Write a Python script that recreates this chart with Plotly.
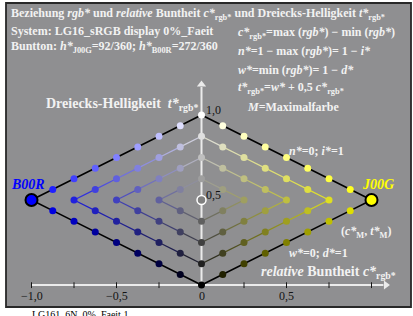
import plotly.graph_objects as go

# ---------------- data ----------------
hue_names = ["B00R", "J00G"]
hue_sides = [-1, 1]                      # sign of c* on the drawing
hue_channels = [(0, 0, 1), (1, 1, 0)]    # channels that are at max for each hue
hue_text_colors = ["rgb(0,0,255)", "rgb(255,255,0)"]
chevron_chroma = [1.0, 0.75, 0.5, 0.25]  # chroma of each chevron's tip (t*=0.5)
chroma_steps = [0.0, 0.125, 0.25, 0.375, 0.5, 0.625, 0.75, 0.875, 1.0]
grey_levels = [0.0, 0.125, 0.25, 0.375, 0.5, 0.625, 0.75, 0.875, 1.0]
tick_values = [-1.0, -0.75, -0.5, -0.25, 0.25, 0.5, 0.75, 1.0]
tick_label_values = [-1.0, -0.5, 0.0, 0.5]
tick_label_texts = ["−1,0", "−0,5", "0", "0,5"]

W, H = 413, 316
X0, Y0, S = 201.5, 285.0, 170.0          # pixel of origin and pixels per unit
FONT = "Liberation Serif"
WHITE = "rgb(242,242,242)"


def px(x):
    return x / W


def py(y):
    return 1 - y / H


def rgb_of(c, t, channels):
    w = t - c / 2.0
    vals = [w + c * ch for ch in channels]
    vals = [min(max(v, 0.0), 1.0) for v in vals]
    return "rgb(%d,%d,%d)" % tuple(round(v * 255) for v in vals)


fig = go.Figure()

# axes lines
fig.add_trace(go.Scatter(x=[0, 0], y=[0, 1.165], mode="lines",
                         line=dict(color="rgb(235,235,235)", width=2), hoverinfo="skip"))
fig.add_trace(go.Scatter(x=[-1.0, 1.07], y=[0, 0], mode="lines",
                         line=dict(color="rgb(235,235,235)", width=2), hoverinfo="skip"))
fig.add_trace(go.Scatter(x=[0], y=[1.18], mode="markers",
                         marker=dict(symbol="triangle-up", size=8, color="rgb(235,235,235)"),
                         hoverinfo="skip"))
fig.add_trace(go.Scatter(x=[1.085], y=[0], mode="markers",
                         marker=dict(symbol="triangle-right", size=8, color="rgb(235,235,235)"),
                         hoverinfo="skip"))
# ticks
tx, ty = [], []
for v in tick_values:
    tx += [v, v, None]
    ty += [0.016, -0.018, None]
fig.add_trace(go.Scatter(x=tx, y=ty, mode="lines", line=dict(color="rgb(20,20,20)", width=1),
                         hoverinfo="skip"))

# chevron lines and dots
for name, side, ch in zip(hue_names, hue_sides, hue_channels):
    dx, dy, dc = [], [], []
    for a in chevron_chroma:
        cs = [c for c in chroma_steps if c <= a + 1e-9]
        up = [(c, 0.5 + (a - c) / 2) for c in cs]
        low = [(c, 0.5 - (a - c) / 2) for c in cs]
        # order: top(0) -> tip -> bottom(0)
        path = sorted(up, key=lambda p: p[0]) + sorted(low, key=lambda p: -p[0])[1:]
        if a == 1.0:
            fig.add_trace(go.Scatter(x=[side * p[0] for p in path], y=[p[1] for p in path],
                                     mode="lines", line=dict(color="black", width=1.6),
                                     hoverinfo="skip"))
        else:
            for p, q in zip(path[:-1], path[1:]):
                mc, mt = (p[0] + q[0]) / 2, (p[1] + q[1]) / 2
                fig.add_trace(go.Scatter(x=[side * p[0], side * q[0]], y=[p[1], q[1]],
                                         mode="lines",
                                         line=dict(color=rgb_of(mc, mt, ch), width=1.2),
                                         hoverinfo="skip"))
        for (c, t) in path:
            if c == 0 or (a == 1.0 and c == 1.0):
                continue
            dx.append(side * c)
            dy.append(t)
            dc.append(rgb_of(c, t, ch))
    fig.add_trace(go.Scatter(x=dx, y=dy, mode="markers",
                             marker=dict(size=7, color=dc, line=dict(width=0)),
                             hoverinfo="skip"))
    # maximal colour
    fig.add_trace(go.Scatter(x=[side * 1.0], y=[0.5], mode="markers",
                             marker=dict(size=12, color=rgb_of(1.0, 0.5, ch),
                                         line=dict(color="black", width=2)),
                             hoverinfo="skip"))

# grey points on the t* axis
gx, gy, gc = [], [], []
for g in grey_levels:
    if g == 0.5:
        continue
    gx.append(0)
    gy.append(g)
    gc.append(rgb_of(0, g, (0, 0, 0)))
fig.add_trace(go.Scatter(x=gx, y=gy, mode="markers",
                         marker=dict(size=7, color=gc, line=dict(width=0)), hoverinfo="skip"))
fig.add_trace(go.Scatter(x=[0], y=[0.5], mode="markers",
                         marker=dict(size=9, color="rgb(128,128,128)",
                                     line=dict(color="white", width=1.5)), hoverinfo="skip"))

# ---------------- annotations ----------------
ann = []


def txt(x, y, s, size=12, color=WHITE, anchor="left"):
    ann.append(dict(x=px(x), y=py(y), xref="paper", yref="paper", text=s, showarrow=False,
                    xanchor=anchor, yanchor="middle",
                    font=dict(family=FONT, size=size, color=color)))


b = lambda s: "<b>" + s + "</b>"
txt(9, 14, b("Beziehung <i>rgb*</i> und <i>relative</i> Buntheit <i>c*</i><sub>rgb*</sub> und Dreiecks-Helligkeit <i>t*</i><sub>rgb*</sub>"))
txt(9, 31, b("System: LG16_sRGB display 0%_Faeit"))
txt(9, 47, b("Buntton: <i>h*</i><sub>J00G</sub>=92/360; <i>h*</i><sub>B00R</sub>=272/360"))
txt(236, 33, b("<i>c*</i><sub>rgb*</sub>=max (<i>rgb*</i>) − min (<i>rgb*</i>)"))
txt(236, 51, b("<i>n*</i>=1 − max (<i>rgb*</i>)= 1 − <i>i*</i>"))
txt(236, 70, b("<i>w*</i>=min (<i>rgb*</i>)= 1 − <i>d*</i>"))
txt(236, 88, b("<i>t*</i><sub>rgb*</sub>=<i>w*</i> + 0,5 <i>c*</i><sub>rgb*</sub>"))
txt(245, 107, b("<i>M</i>=Maximalfarbe"))
txt(44, 104, b("Dreiecks-Helligkeit  <i>t*</i><sub>rgb*</sub>"), size=14)
txt(287, 151, b("<i>n*</i>=0; <i>i*</i>=1"))
txt(287, 253, b("<i>w*</i>=0; <i>d*</i>=1"))
txt(339, 232, b("(<i>c*</i><sub>M</sub>, <i>t*</i><sub>M</sub>)"))
txt(259, 272, b("<i>relative</i> Buntheit <i>c*</i><sub>rgb*</sub>"), size=14)
txt(9, 184, b("<i>B00R</i>"), size=14, color=hue_text_colors[0])
txt(360, 184, b("<i>J00G</i>"), size=14, color=hue_text_colors[1])
txt(204, 110, "1,0", size=12, color="rgb(20,20,20)")
txt(204, 195, "0,5", size=12, color="rgb(20,20,20)")
for v, s in zip(tick_label_values, tick_label_texts):
    txt(X0 + v * S, 296, s, size=12, color="rgb(20,20,20)", anchor="center")
txt(30, 314, "LG161_6N_0%_Faeit 1", size=10, color="black")

shapes = [dict(type="rect", xref="paper", yref="paper", x0=px(6), x1=px(411), y0=py(307), y1=py(3),
               fillcolor="rgb(143,143,145)", line=dict(color="rgb(40,40,40)", width=1.8),
               layer="below")]

fig.update_layout(
    width=W, height=H, autosize=False,
    margin=dict(l=0, r=0, t=0, b=0, pad=0),
    paper_bgcolor="white", plot_bgcolor="rgba(0,0,0,0)",
    showlegend=False,
    xaxis=dict(range=[(0 - X0) / S, (W - X0) / S], visible=False, fixedrange=True),
    yaxis=dict(range=[(Y0 - H) / S, Y0 / S], visible=False, fixedrange=True),
    annotations=ann, shapes=shapes,
)
fig.write_html("out.html", config={"displayModeBar": False},
               post_script="document.body.style.margin='0';document.body.style.overflow='hidden';")
